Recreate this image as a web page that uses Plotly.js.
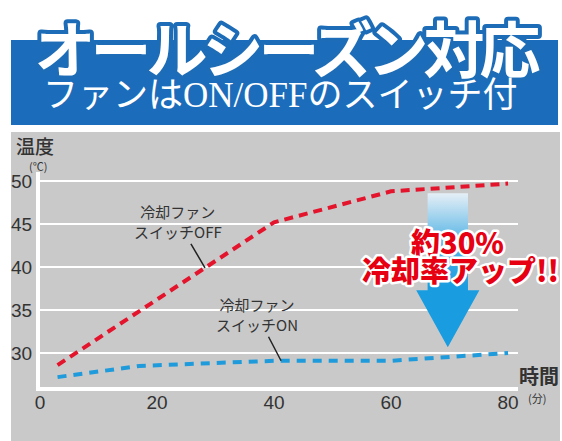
<!DOCTYPE html>
<html><head><meta charset="utf-8">
<script src="https://cdn.plot.ly/plotly-3.0.1.min.js"></script>
<style>
html,body{margin:0;padding:0;background:#fff;}
#chart{width:562px;height:441px;}
.annotation[data-index="0"] .annotation-text{stroke:#1d6cb8;stroke-width:8px;paint-order:stroke fill;stroke-linejoin:round;letter-spacing:-5px;}
.annotation[data-index="8"] .annotation-text,.annotation[data-index="9"] .annotation-text{stroke:#fff;stroke-width:5px;paint-order:stroke fill;stroke-linejoin:round;}
</style></head>
<body><div id="chart"></div>
<script>
// ---- data ----
const offMinutes = [3, 40, 60, 80];
const offTemps   = [28.6, 45.2, 48.8, 49.7];
const onMinutes  = [3, 17, 40, 60, 80];
const onTemps    = [27.2, 28.5, 29.1, 29.1, 30.0];
const xTicks = [0, 20, 40, 60, 80];
const yTicks = [30, 35, 40, 45, 50];
const titleText = "オールシーズン対応";
const subtitleText = "ファンはON/OFFのスイッチ付";
const offLabel = "冷却ファン<br>スイッチOFF";
const onLabel  = "冷却ファン<br>スイッチON";
const gainLine1 = "約30%";
const gainLine2 = "冷却率アップ!!";

// ---- layout helpers ----
const W = 562, H = 441;
const M = {l:40, r:44, t:172, b:54};
const pw = W - M.l - M.r, ph = H - M.t - M.b;
const px = x => (x - M.l) / pw;
const py = y => (H - M.b - y) / ph;
function interp(xs, ys, x){
  for(let i=0;i<xs.length-1;i++){
    if(x>=xs[i] && x<=xs[i+1]) return ys[i] + (ys[i+1]-ys[i])*(x-xs[i])/(xs[i+1]-xs[i]);
  }
  return ys[ys.length-1];
}
// arrow spanning the gap between the two series
const aC = 69.7;
const aTop = interp(offMinutes, offTemps, aC) - 0.65;
const aTip = interp(onMinutes, onTemps, aC) + 1.15;
const aHeadBase = aTip + (aTop - aTip) * 0.37;
const sw = 3.45, hw = 5.4;
const arrowX = [aC-sw, aC+sw, aC+sw, aC+hw, aC, aC-hw, aC-sw, aC-sw];
const arrowY = [aTop, aTop, aHeadBase, aHeadBase, aTip, aHeadBase, aHeadBase, aTop];

const cjk = "'Noto Sans CJK JP', sans-serif";
const latin = "'Liberation Sans', Arial, 'Noto Sans CJK JP', sans-serif";

const traces = [
  {x: arrowX, y: arrowY, type:'scatter', mode:'lines', line:{width:0}, fill:'toself',
   fillgradient:{type:'vertical', colorscale:[[0,'#1a9de0'],[0.4,'#1a9de0'],[0.7,'#5db7e6'],[1,'#e6eff6']]},
   hoverinfo:'skip', showlegend:false},
  {x: offMinutes, y: offTemps, type:'scatter', mode:'lines', line:{color:'#e3142c', width:4, dash:'9px,6px'}, showlegend:false},
  {x: onMinutes, y: onTemps, type:'scatter', mode:'lines', line:{color:'#1f9bdc', width:4, dash:'9px,7px'}, showlegend:false}
];

function pAnn(text, x, y, size, opts){
  return Object.assign({text:text, xref:'paper', yref:'paper', x:px(x), y:py(y), xanchor:'center', yanchor:'middle',
    showarrow:false, font:{family:cjk, size:size, color:'#333'}}, opts||{});
}

const annotations = [
  pAnn(titleText, 285, 46, 61, {font:{family:cjk, size:61, color:'#fff', weight:700}}),
  pAnn(subtitleText, 280, 96, 35, {font:{family:"'Liberation Serif', 'Noto Sans CJK JP', serif", size:35, color:'#fff'}}),
  pAnn("温度", 35, 145, 19, {font:{family:cjk, size:19, color:'#333', weight:500}}),
  pAnn("(℃)", 38, 166, 11),
  pAnn("時間", 539, 375, 20, {font:{family:cjk, size:20, color:'#333', weight:700}}),
  pAnn("(分)", 537, 398, 11),
  {text:offLabel, x:28.2, y:interp(offMinutes, offTemps, 28.2), xref:'x', yref:'y', showarrow:true, arrowhead:0, arrowwidth:1.5, arrowcolor:'#222',
   ax:-27, ay:-46, font:{family:cjk, size:15, color:'#333'}, align:'center'},
  {text:onLabel, x:41.2, y:interp(onMinutes, onTemps, 41.2), xref:'x', yref:'y', showarrow:true, arrowhead:0, arrowwidth:1.5, arrowcolor:'#222',
   ax:-24, ay:-46, font:{family:cjk, size:15, color:'#333'}, align:'center'},
  pAnn(gainLine1, 457, 241, 29, {font:{family:cjk, size:29, color:'#e60012', weight:900}}),
  pAnn(gainLine2, 460, 269, 29, {font:{family:cjk, size:29, color:'#e60012', weight:900}})
];

const shapes = [
  {type:'rect', xref:'paper', yref:'paper', x0:px(11), x1:px(560), y0:py(441), y1:py(132), fillcolor:'#c9c9c9', line:{width:0}, layer:'below'},
  {type:'rect', xref:'paper', yref:'paper', x0:px(11), x1:px(558), y0:py(125), y1:py(40), fillcolor:'#1b6dbb', line:{width:0}, layer:'below'}
];

const layout = {
  width:W, height:H, margin:{l:M.l, r:M.r, t:M.t, b:M.b, pad:0},
  paper_bgcolor:'#fff', plot_bgcolor:'rgba(0,0,0,0)', showlegend:false,
  xaxis:{range:[0,81.7], tickvals:xTicks, ticktext:xTicks.map(String), showgrid:false, zeroline:false,
    showline:true, linecolor:'#fff', linewidth:4, ticks:'', ticklabelstandoff:-5, tickfont:{family:latin, size:19, color:'#333'}},
  yaxis:{range:[26.05,51.05], tickvals:yTicks, ticktext:yTicks.map(String), showgrid:true, gridcolor:'#fff', gridwidth:2,
    zeroline:false, showline:true, linecolor:'#fff', linewidth:4, ticks:'', tickfont:{family:latin, size:19, color:'#333'}},
  shapes:shapes, annotations:annotations
};

Plotly.newPlot('chart', traces, layout, {staticPlot:true, displayModeBar:false});
</script>
</body></html>
